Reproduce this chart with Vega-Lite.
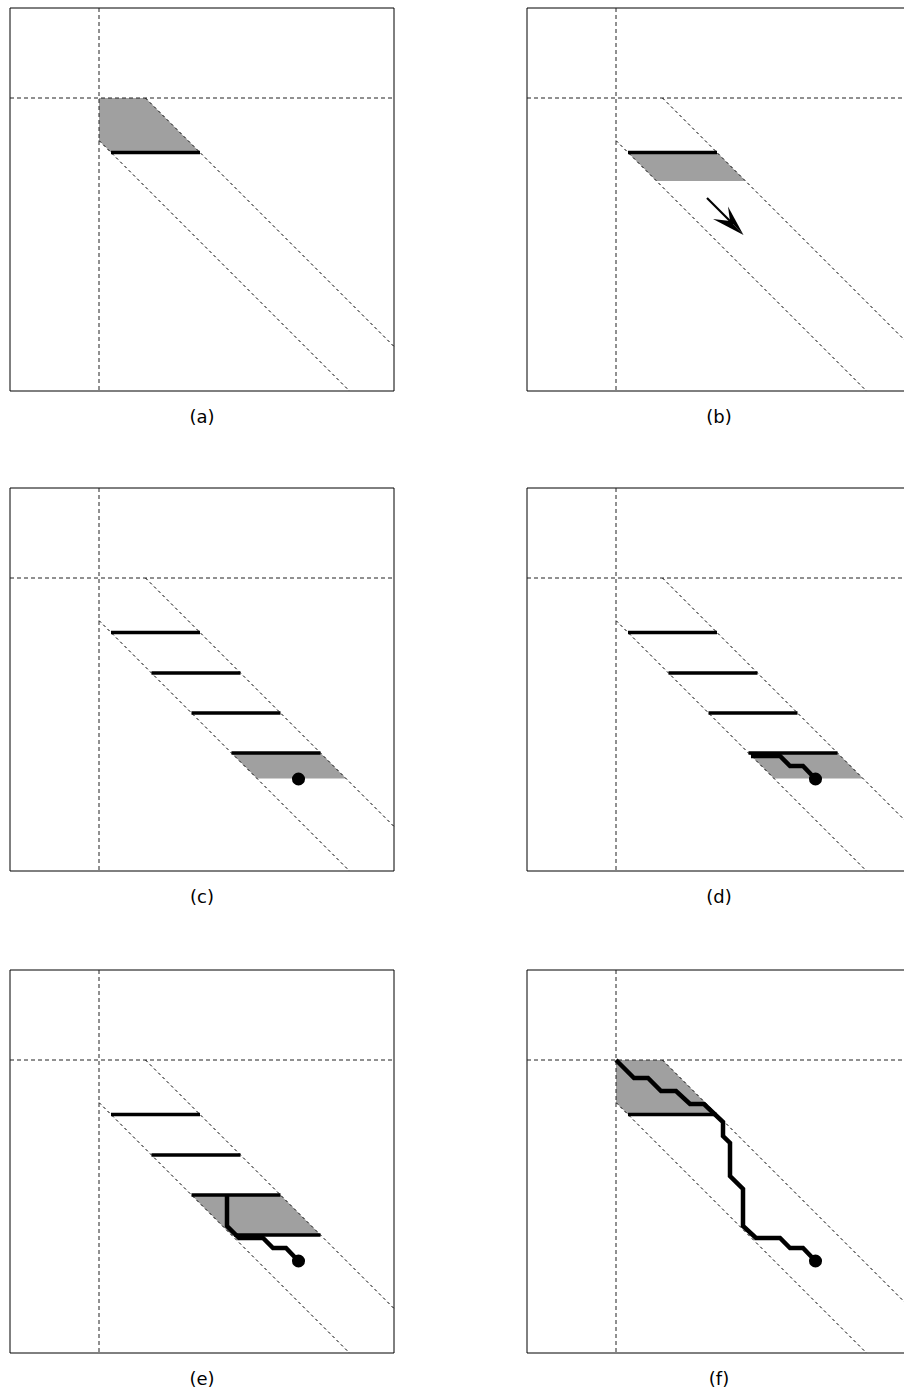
{
"$schema": "https://vega.github.io/schema/vega-lite/v6.json",
"padding": 0,
"config": {"view": {"stroke": null}},
"datasets": {
"base": [
{"el":"frame","u":0,"u2":384,"v":0,"v2":383},
{"el":"hv","u":89,"u2":89,"v":0,"v2":383},
{"el":"hv","u":0,"u2":384,"v":90,"v2":90},
{"el":"diag","u":135.5,"v":90,"u2":384,"v2":338.5},
{"el":"diag","u":89,"v":132.5,"u2":339.5,"v2":383}
],
"shapes": [
{"p":"a","k":"region","id":1,"v":90,"u":89,"u2":135.5},
{"p":"a","k":"region","id":1,"v":132.5,"u":89,"u2":178},
{"p":"a","k":"region","id":1,"v":144.5,"u":101,"u2":190},
{"p":"a","k":"bar","v":144.5,"u":101,"u2":190},
{"p":"a","k":"label","u":192,"v":410,"t":"(a)"},

{"p":"b","k":"region","id":1,"v":145,"u":101.5,"u2":190.5},
{"p":"b","k":"region","id":1,"v":173,"u":129.5,"u2":218.5},
{"p":"b","k":"bar","v":144.5,"u":101,"u2":190},
{"p":"b","k":"shaft","u":180,"v":190,"u2":206,"v2":216},
{"p":"b","k":"head","id":2,"v":198.5,"u":201,"u2":201},
{"p":"b","k":"head","id":2,"v":213,"u":203,"u2":208.9},
{"p":"b","k":"head","id":2,"v":227,"u":216.5,"u2":216.5},
{"p":"b","k":"head","id":3,"v":211,"u":186,"u2":186},
{"p":"b","k":"head","id":3,"v":213,"u":189.8,"u2":203},
{"p":"b","k":"head","id":3,"v":227,"u":216.5,"u2":216.5},
{"p":"b","k":"label","u":192,"v":410,"t":"(b)"},

{"p":"c","k":"region","id":1,"v":265.5,"u":222,"u2":311},
{"p":"c","k":"region","id":1,"v":290.5,"u":247,"u2":336},
{"p":"c","k":"bar","v":144.5,"u":101,"u2":190},
{"p":"c","k":"bar","v":185,"u":141.5,"u2":230.5},
{"p":"c","k":"bar","v":225,"u":181.5,"u2":270.5},
{"p":"c","k":"bar","v":265,"u":221.5,"u2":310.5},
{"p":"c","k":"dot","u":288.5,"v":291},
{"p":"c","k":"label","u":192,"v":410,"t":"(c)"},

{"p":"d","k":"region","id":1,"v":265.5,"u":222,"u2":311},
{"p":"d","k":"region","id":1,"v":290.5,"u":247,"u2":336},
{"p":"d","k":"bar","v":144.5,"u":101,"u2":190},
{"p":"d","k":"bar","v":185,"u":141.5,"u2":230.5},
{"p":"d","k":"bar","v":225,"u":181.5,"u2":270.5},
{"p":"d","k":"bar","v":265,"u":221.5,"u2":310.5},
{"p":"d","k":"path","o":1,"u":224,"v":268},
{"p":"d","k":"path","o":2,"u":253,"v":268},
{"p":"d","k":"path","o":3,"u":263,"v":278},
{"p":"d","k":"path","o":4,"u":276,"v":278},
{"p":"d","k":"path","o":5,"u":288.5,"v":291},
{"p":"d","k":"dot","u":288.5,"v":291},
{"p":"d","k":"label","u":192,"v":410,"t":"(d)"},

{"p":"e","k":"region","id":1,"v":225,"u":181.5,"u2":270.5},
{"p":"e","k":"region","id":1,"v":265,"u":221.5,"u2":310.5},
{"p":"e","k":"bar","v":144.5,"u":101,"u2":190},
{"p":"e","k":"bar","v":185,"u":141.5,"u2":230.5},
{"p":"e","k":"bar","v":225,"u":181.5,"u2":270.5},
{"p":"e","k":"bar","v":265,"u":224,"u2":310.5},
{"p":"e","k":"path","o":1,"u":217,"v":226},
{"p":"e","k":"path","o":2,"u":217,"v":256},
{"p":"e","k":"path","o":3,"u":229,"v":268},
{"p":"e","k":"path","o":4,"u":253,"v":268},
{"p":"e","k":"path","o":5,"u":263,"v":278},
{"p":"e","k":"path","o":6,"u":276,"v":278},
{"p":"e","k":"path","o":7,"u":288.5,"v":291},
{"p":"e","k":"dot","u":288.5,"v":291},
{"p":"e","k":"label","u":192,"v":410,"t":"(e)"},

{"p":"f","k":"region","id":1,"v":90,"u":89,"u2":135.5},
{"p":"f","k":"region","id":1,"v":132.5,"u":89,"u2":178},
{"p":"f","k":"region","id":1,"v":144.5,"u":101,"u2":190},
{"p":"f","k":"bar","v":144.5,"u":101,"u2":190},
{"p":"f","k":"path","o":1,"u":89,"v":90},
{"p":"f","k":"path","o":2,"u":107,"v":108},
{"p":"f","k":"path","o":3,"u":121,"v":108},
{"p":"f","k":"path","o":4,"u":134,"v":121},
{"p":"f","k":"path","o":5,"u":149,"v":121},
{"p":"f","k":"path","o":6,"u":163,"v":134},
{"p":"f","k":"path","o":7,"u":177,"v":134},
{"p":"f","k":"path","o":8,"u":196,"v":152},
{"p":"f","k":"path","o":9,"u":196,"v":166},
{"p":"f","k":"path","o":10,"u":203,"v":173},
{"p":"f","k":"path","o":11,"u":203,"v":206},
{"p":"f","k":"path","o":12,"u":216,"v":219},
{"p":"f","k":"path","o":13,"u":216,"v":256},
{"p":"f","k":"path","o":14,"u":229,"v":268},
{"p":"f","k":"path","o":15,"u":253,"v":268},
{"p":"f","k":"path","o":16,"u":263,"v":278},
{"p":"f","k":"path","o":17,"u":276,"v":278},
{"p":"f","k":"path","o":18,"u":288.5,"v":291},
{"p":"f","k":"dot","u":288.5,"v":291},
{"p":"f","k":"label","u":192,"v":410,"t":"(f)"}
]
},
"spacing": 0,
"vconcat": [
{"spacing": 0, "hconcat": [
{"width": 463, "height": 480,
 "encoding": {"x": {"field":"u","type":"quantitative","axis":null,"scale":{"domain":[-10,453],"nice":false,"zero":false}},
              "y": {"field":"v","type":"quantitative","axis":null,"scale":{"domain":[-8,472],"nice":false,"zero":false,"reverse":true}}},
 "layer": [
  {"data":{"name":"shapes"},"transform":[{"filter":"datum.p=='a' && datum.k=='region'"}],"mark":{"type":"area","orient":"horizontal","color":"#a0a0a0","clip":true},"encoding":{"x2":{"field":"u2"},"detail":{"field":"id","type":"nominal"}}},
  {"data":{"name":"base"},"transform":[{"filter":"datum.el=='frame'"}],"mark":{"type":"rect","filled":false,"color":"black","strokeWidth":1,"clip":true},"encoding":{"x2":{"field":"u2"},"y2":{"field":"v2"}}},
  {"data":{"name":"base"},"transform":[{"filter":"datum.el=='hv'"}],"mark":{"type":"rule","color":"#222","strokeWidth":1,"strokeDash":[4,3],"clip":true},"encoding":{"x2":{"field":"u2"},"y2":{"field":"v2"}}},
  {"data":{"name":"base"},"transform":[{"filter":"datum.el=='diag'"}],"mark":{"type":"rule","color":"black","strokeWidth":1,"strokeDash":[3,3],"clip":true},"encoding":{"x2":{"field":"u2"},"y2":{"field":"v2"}}},
  {"data":{"name":"shapes"},"transform":[{"filter":"datum.p=='a' && datum.k=='bar'"}],"mark":{"type":"rule","color":"black","strokeWidth":3.6,"clip":true},"encoding":{"x2":{"field":"u2"}}},
  {"data":{"name":"shapes"},"transform":[{"filter":"datum.p=='a' && datum.k=='label'"}],"mark":{"type":"text","font":"DejaVu Sans","fontSize":18,"color":"black","baseline":"middle","align":"center"},"encoding":{"text":{"field":"t"}}}
 ]},
{"width": 441, "height": 480,
 "encoding": {"x": {"field":"u","type":"quantitative","axis":null,"scale":{"domain":[-64,377],"nice":false,"zero":false}},
              "y": {"field":"v","type":"quantitative","axis":null,"scale":{"domain":[-8,472],"nice":false,"zero":false,"reverse":true}}},
 "layer": [
  {"data":{"name":"shapes"},"transform":[{"filter":"datum.p=='b' && datum.k=='region'"}],"mark":{"type":"area","orient":"horizontal","color":"#a0a0a0","clip":true},"encoding":{"x2":{"field":"u2"},"detail":{"field":"id","type":"nominal"}}},
  {"data":{"name":"base"},"transform":[{"filter":"datum.el=='frame'"}],"mark":{"type":"rect","filled":false,"color":"black","strokeWidth":1,"clip":true},"encoding":{"x2":{"field":"u2"},"y2":{"field":"v2"}}},
  {"data":{"name":"base"},"transform":[{"filter":"datum.el=='hv'"}],"mark":{"type":"rule","color":"#222","strokeWidth":1,"strokeDash":[4,3],"clip":true},"encoding":{"x2":{"field":"u2"},"y2":{"field":"v2"}}},
  {"data":{"name":"base"},"transform":[{"filter":"datum.el=='diag'"}],"mark":{"type":"rule","color":"black","strokeWidth":1,"strokeDash":[3,3],"clip":true},"encoding":{"x2":{"field":"u2"},"y2":{"field":"v2"}}},
  {"data":{"name":"shapes"},"transform":[{"filter":"datum.p=='b' && datum.k=='bar'"}],"mark":{"type":"rule","color":"black","strokeWidth":3.6,"clip":true},"encoding":{"x2":{"field":"u2"}}},
  {"data":{"name":"shapes"},"transform":[{"filter":"datum.p=='b' && datum.k=='shaft'"}],"mark":{"type":"rule","color":"black","strokeWidth":2.2,"clip":true},"encoding":{"x2":{"field":"u2"},"y2":{"field":"v2"}}},
  {"data":{"name":"shapes"},"transform":[{"filter":"datum.p=='b' && datum.k=='head'"}],"mark":{"type":"area","orient":"horizontal","color":"black","clip":true},"encoding":{"x2":{"field":"u2"},"detail":{"field":"id","type":"nominal"}}},
  {"data":{"name":"shapes"},"transform":[{"filter":"datum.p=='b' && datum.k=='label'"}],"mark":{"type":"text","font":"DejaVu Sans","fontSize":18,"color":"black","baseline":"middle","align":"center"},"encoding":{"text":{"field":"t"}}}
 ]}
]},
{"spacing": 0, "hconcat": [
{"width": 463, "height": 482,
 "encoding": {"x": {"field":"u","type":"quantitative","axis":null,"scale":{"domain":[-10,453],"nice":false,"zero":false}},
              "y": {"field":"v","type":"quantitative","axis":null,"scale":{"domain":[-8,474],"nice":false,"zero":false,"reverse":true}}},
 "layer": [
  {"data":{"name":"shapes"},"transform":[{"filter":"datum.p=='c' && datum.k=='region'"}],"mark":{"type":"area","orient":"horizontal","color":"#a0a0a0","clip":true},"encoding":{"x2":{"field":"u2"},"detail":{"field":"id","type":"nominal"}}},
  {"data":{"name":"base"},"transform":[{"filter":"datum.el=='frame'"}],"mark":{"type":"rect","filled":false,"color":"black","strokeWidth":1,"clip":true},"encoding":{"x2":{"field":"u2"},"y2":{"field":"v2"}}},
  {"data":{"name":"base"},"transform":[{"filter":"datum.el=='hv'"}],"mark":{"type":"rule","color":"#222","strokeWidth":1,"strokeDash":[4,3],"clip":true},"encoding":{"x2":{"field":"u2"},"y2":{"field":"v2"}}},
  {"data":{"name":"base"},"transform":[{"filter":"datum.el=='diag'"}],"mark":{"type":"rule","color":"black","strokeWidth":1,"strokeDash":[3,3],"clip":true},"encoding":{"x2":{"field":"u2"},"y2":{"field":"v2"}}},
  {"data":{"name":"shapes"},"transform":[{"filter":"datum.p=='c' && datum.k=='bar'"}],"mark":{"type":"rule","color":"black","strokeWidth":3.6,"clip":true},"encoding":{"x2":{"field":"u2"}}},
  {"data":{"name":"shapes"},"transform":[{"filter":"datum.p=='c' && datum.k=='dot'"}],"mark":{"type":"point","filled":true,"color":"black","opacity":1,"size":170,"clip":true}},
  {"data":{"name":"shapes"},"transform":[{"filter":"datum.p=='c' && datum.k=='label'"}],"mark":{"type":"text","font":"DejaVu Sans","fontSize":18,"color":"black","baseline":"middle","align":"center"},"encoding":{"text":{"field":"t"}}}
 ]},
{"width": 441, "height": 482,
 "encoding": {"x": {"field":"u","type":"quantitative","axis":null,"scale":{"domain":[-64,377],"nice":false,"zero":false}},
              "y": {"field":"v","type":"quantitative","axis":null,"scale":{"domain":[-8,474],"nice":false,"zero":false,"reverse":true}}},
 "layer": [
  {"data":{"name":"shapes"},"transform":[{"filter":"datum.p=='d' && datum.k=='region'"}],"mark":{"type":"area","orient":"horizontal","color":"#a0a0a0","clip":true},"encoding":{"x2":{"field":"u2"},"detail":{"field":"id","type":"nominal"}}},
  {"data":{"name":"base"},"transform":[{"filter":"datum.el=='frame'"}],"mark":{"type":"rect","filled":false,"color":"black","strokeWidth":1,"clip":true},"encoding":{"x2":{"field":"u2"},"y2":{"field":"v2"}}},
  {"data":{"name":"base"},"transform":[{"filter":"datum.el=='hv'"}],"mark":{"type":"rule","color":"#222","strokeWidth":1,"strokeDash":[4,3],"clip":true},"encoding":{"x2":{"field":"u2"},"y2":{"field":"v2"}}},
  {"data":{"name":"base"},"transform":[{"filter":"datum.el=='diag'"}],"mark":{"type":"rule","color":"black","strokeWidth":1,"strokeDash":[3,3],"clip":true},"encoding":{"x2":{"field":"u2"},"y2":{"field":"v2"}}},
  {"data":{"name":"shapes"},"transform":[{"filter":"datum.p=='d' && datum.k=='bar'"}],"mark":{"type":"rule","color":"black","strokeWidth":3.6,"clip":true},"encoding":{"x2":{"field":"u2"}}},
  {"data":{"name":"shapes"},"transform":[{"filter":"datum.p=='d' && datum.k=='path'"}],"mark":{"type":"line","color":"black","strokeWidth":4.5,"strokeJoin":"miter","clip":true},"encoding":{"order":{"field":"o","type":"quantitative"}}},
  {"data":{"name":"shapes"},"transform":[{"filter":"datum.p=='d' && datum.k=='dot'"}],"mark":{"type":"point","filled":true,"color":"black","opacity":1,"size":170,"clip":true}},
  {"data":{"name":"shapes"},"transform":[{"filter":"datum.p=='d' && datum.k=='label'"}],"mark":{"type":"text","font":"DejaVu Sans","fontSize":18,"color":"black","baseline":"middle","align":"center"},"encoding":{"text":{"field":"t"}}}
 ]}
]},
{"spacing": 0, "hconcat": [
{"width": 463, "height": 432,
 "encoding": {"x": {"field":"u","type":"quantitative","axis":null,"scale":{"domain":[-10,453],"nice":false,"zero":false}},
              "y": {"field":"v","type":"quantitative","axis":null,"scale":{"domain":[-8,424],"nice":false,"zero":false,"reverse":true}}},
 "layer": [
  {"data":{"name":"shapes"},"transform":[{"filter":"datum.p=='e' && datum.k=='region'"}],"mark":{"type":"area","orient":"horizontal","color":"#a0a0a0","clip":true},"encoding":{"x2":{"field":"u2"},"detail":{"field":"id","type":"nominal"}}},
  {"data":{"name":"base"},"transform":[{"filter":"datum.el=='frame'"}],"mark":{"type":"rect","filled":false,"color":"black","strokeWidth":1,"clip":true},"encoding":{"x2":{"field":"u2"},"y2":{"field":"v2"}}},
  {"data":{"name":"base"},"transform":[{"filter":"datum.el=='hv'"}],"mark":{"type":"rule","color":"#222","strokeWidth":1,"strokeDash":[4,3],"clip":true},"encoding":{"x2":{"field":"u2"},"y2":{"field":"v2"}}},
  {"data":{"name":"base"},"transform":[{"filter":"datum.el=='diag'"}],"mark":{"type":"rule","color":"black","strokeWidth":1,"strokeDash":[3,3],"clip":true},"encoding":{"x2":{"field":"u2"},"y2":{"field":"v2"}}},
  {"data":{"name":"shapes"},"transform":[{"filter":"datum.p=='e' && datum.k=='bar'"}],"mark":{"type":"rule","color":"black","strokeWidth":3.6,"clip":true},"encoding":{"x2":{"field":"u2"}}},
  {"data":{"name":"shapes"},"transform":[{"filter":"datum.p=='e' && datum.k=='path'"}],"mark":{"type":"line","color":"black","strokeWidth":4.5,"strokeJoin":"miter","clip":true},"encoding":{"order":{"field":"o","type":"quantitative"}}},
  {"data":{"name":"shapes"},"transform":[{"filter":"datum.p=='e' && datum.k=='dot'"}],"mark":{"type":"point","filled":true,"color":"black","opacity":1,"size":170,"clip":true}},
  {"data":{"name":"shapes"},"transform":[{"filter":"datum.p=='e' && datum.k=='label'"}],"mark":{"type":"text","font":"DejaVu Sans","fontSize":18,"color":"black","baseline":"middle","align":"center"},"encoding":{"text":{"field":"t"}}}
 ]},
{"width": 441, "height": 432,
 "encoding": {"x": {"field":"u","type":"quantitative","axis":null,"scale":{"domain":[-64,377],"nice":false,"zero":false}},
              "y": {"field":"v","type":"quantitative","axis":null,"scale":{"domain":[-8,424],"nice":false,"zero":false,"reverse":true}}},
 "layer": [
  {"data":{"name":"shapes"},"transform":[{"filter":"datum.p=='f' && datum.k=='region'"}],"mark":{"type":"area","orient":"horizontal","color":"#a0a0a0","clip":true},"encoding":{"x2":{"field":"u2"},"detail":{"field":"id","type":"nominal"}}},
  {"data":{"name":"base"},"transform":[{"filter":"datum.el=='frame'"}],"mark":{"type":"rect","filled":false,"color":"black","strokeWidth":1,"clip":true},"encoding":{"x2":{"field":"u2"},"y2":{"field":"v2"}}},
  {"data":{"name":"base"},"transform":[{"filter":"datum.el=='hv'"}],"mark":{"type":"rule","color":"#222","strokeWidth":1,"strokeDash":[4,3],"clip":true},"encoding":{"x2":{"field":"u2"},"y2":{"field":"v2"}}},
  {"data":{"name":"base"},"transform":[{"filter":"datum.el=='diag'"}],"mark":{"type":"rule","color":"black","strokeWidth":1,"strokeDash":[3,3],"clip":true},"encoding":{"x2":{"field":"u2"},"y2":{"field":"v2"}}},
  {"data":{"name":"shapes"},"transform":[{"filter":"datum.p=='f' && datum.k=='bar'"}],"mark":{"type":"rule","color":"black","strokeWidth":3.6,"clip":true},"encoding":{"x2":{"field":"u2"}}},
  {"data":{"name":"shapes"},"transform":[{"filter":"datum.p=='f' && datum.k=='path'"}],"mark":{"type":"line","color":"black","strokeWidth":4.5,"strokeJoin":"miter","clip":true},"encoding":{"order":{"field":"o","type":"quantitative"}}},
  {"data":{"name":"shapes"},"transform":[{"filter":"datum.p=='f' && datum.k=='dot'"}],"mark":{"type":"point","filled":true,"color":"black","opacity":1,"size":170,"clip":true}},
  {"data":{"name":"shapes"},"transform":[{"filter":"datum.p=='f' && datum.k=='label'"}],"mark":{"type":"text","font":"DejaVu Sans","fontSize":18,"color":"black","baseline":"middle","align":"center"},"encoding":{"text":{"field":"t"}}}
 ]}
]}
]
}
